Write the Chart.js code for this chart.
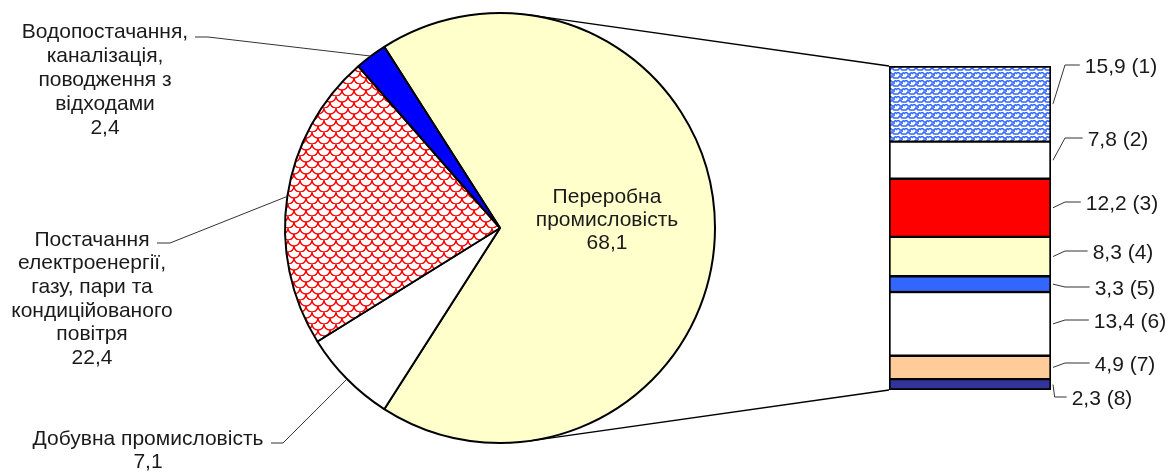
<!DOCTYPE html>
<html>
<head>
<meta charset="utf-8">
<script src="https://cdn.jsdelivr.net/npm/chart.js@4.4.1/dist/chart.umd.min.js"></script>
<style>
  body { margin: 0; background: #fff; }
  #wrap { position: relative; width: 1171px; height: 473px; }
  #wrap canvas { position: absolute; left: 0; top: 0; }
</style>
</head>
<body>
<div id="wrap">
  <canvas id="pie" width="1171" height="473"></canvas>
  <canvas id="bar" width="1171" height="473"></canvas>
</div>
<script>
//Pie data (clockwise from the split-off slice)
const pieLabels = [
  ["Переробна", "промисловість"],
  ["Добувна промисловість"],
  ["Постачання", "електроенергії,", "газу, пари та", "кондиційованого", "повітря"],
  ["Водопостачання,", "каналізація,", "поводження з", "відходами"],
];
const pieValues = [68.1, 7.1, 22.4, 2.4];

//Bar data (top to bottom)
const barLabels = ["(1)", "(2)", "(3)", "(4)", "(5)", "(6)", "(7)", "(8)"];
const barValues = [15.9, 7.8, 12.2, 8.3, 3.3, 13.4, 4.9, 2.3];

const FONT = "21px 'Liberation Sans', Arial, sans-serif";
const TEXT = "#1a1a1a";

function fmt(v) {
  return v.toFixed(1).replace(".", ",");
}

//Red fish-scale pattern
function redPattern() {
  const c = document.createElement("canvas");
  c.width = 12;
  c.height = 12;
  const g = c.getContext("2d");
  g.fillStyle = "#fff";
  g.fillRect(0, 0, 12, 12);
  g.strokeStyle = "#ff0000";
  g.lineWidth = 1.4;
  g.beginPath();
  g.arc(6, 0, 6, 0, Math.PI);
  g.stroke();
  g.beginPath();
  g.arc(0, 6, 6, 0, Math.PI / 2);
  g.stroke();
  g.beginPath();
  g.arc(12, 6, 6, Math.PI / 2, Math.PI);
  g.stroke();
  return g.createPattern(c, "repeat");
}

//Blue weave pattern
function bluePattern() {
  const c = document.createElement("canvas");
  c.width = 8;
  c.height = 8;
  const g = c.getContext("2d");
  g.fillStyle = "#fff";
  g.fillRect(0, 0, 8, 8);
  g.strokeStyle = "#3366ff";
  g.lineWidth = 1.6;
  g.beginPath();
  g.moveTo(0, 2);
  g.lineTo(2, 0);
  g.lineTo(4, 2);
  g.lineTo(6, 2);
  g.lineTo(8, 0);
  g.moveTo(0, 6);
  g.lineTo(2, 6);
  g.lineTo(4, 4);
  g.lineTo(6, 6);
  g.lineTo(8, 6);
  g.moveTo(6, 2);
  g.lineTo(6, 4);
  g.stroke();
  return g.createPattern(c, "repeat");
}

const pieColors = ["#ffffcc", "#ffffff", redPattern(), "#0000ff"];
const barColors = [
  bluePattern(),
  "#ffffff",
  "#ff0000",
  "#ffffcc",
  "#3366ff",
  "#ffffff",
  "#ffcc99",
  "#333399",
];

//Label placement for the pie slices: text centre x, first line y, leader elbow
const pieLabelPos = [
  { x: 607, y: 197, step: 23 },
  { x: 148, y: 439, step: 23, hx: [271, 283], hy: 443 },
  { x: 92, y: 240, step: 23.6, hx: [157, 170], hy: 243 },
  { x: 105, y: 32, step: 24, hx: [195, 208], hy: 37 },
];

//Bar label text positions
const barLabelPos = [
  { x: 1121, y: 67 },
  { x: 1118, y: 140 },
  { x: 1122, y: 204 },
  { x: 1123, y: 253 },
  { x: 1125, y: 289 },
  { x: 1130, y: 322 },
  { x: 1125, y: 365 },
  { x: 1102, y: 399 },
];

const pieLabelPlugin = {
  id: "pieLabels",
  afterDraw(chart) {
    const ctx = chart.ctx;
    const arcs = chart.getDatasetMeta(0).data;
    ctx.save();
    ctx.font = FONT;
    ctx.fillStyle = TEXT;
    ctx.textAlign = "center";
    ctx.textBaseline = "middle";
    arcs.forEach((arc, i) => {
      const pos = pieLabelPos[i];
      const lines = pieLabels[i].concat([fmt(pieValues[i])]);
      lines.forEach((t, k) => ctx.fillText(t, pos.x, pos.y + k * pos.step));
      if (!pos.hx) return;
      const { x, y, startAngle, endAngle, outerRadius } = arc.getProps(
        ["x", "y", "startAngle", "endAngle", "outerRadius"],
        true
      );
      const mid = (startAngle + endAngle) / 2;
      ctx.strokeStyle = "#333";
      ctx.lineWidth = 1;
      ctx.beginPath();
      ctx.moveTo(pos.hx[0], pos.hy);
      ctx.lineTo(pos.hx[1], pos.hy);
      ctx.lineTo(x + Math.cos(mid) * outerRadius, y + Math.sin(mid) * outerRadius);
      ctx.stroke();
    });
    ctx.restore();
  },
};

const pieChart = new Chart(document.getElementById("pie"), {
  type: "pie",
  data: {
    labels: pieLabels.map((l) => l.join(" ")),
    datasets: [
      {
        data: pieValues,
        backgroundColor: pieColors,
        borderColor: "#000",
        borderWidth: 2,
      },
    ],
  },
  options: {
    responsive: false,
    animation: false,
    devicePixelRatio: 1,
    //Centre the split-off slice on 3 o'clock
    rotation: 90 - (pieValues[0] / pieValues.reduce((a, b) => a + b, 0)) * 180,
    layout: { padding: { left: 284, right: 455, top: 12, bottom: 29 } },
    plugins: {
      legend: { display: false },
      tooltip: { enabled: false },
    },
  },
  plugins: [pieLabelPlugin],
});

//Tangent point from an outside point to the pie circle
function tangentPoint(cx, cy, r, px, py, side) {
  const dx = px - cx;
  const dy = py - cy;
  const d = Math.sqrt(dx * dx + dy * dy);
  const a = Math.atan2(dy, dx) + side * Math.acos(r / d);
  return [cx + r * Math.cos(a), cy + r * Math.sin(a)];
}

const barLabelPlugin = {
  id: "barLabels",
  afterDraw(chart) {
    const ctx = chart.ctx;
    const yScale = chart.scales.y;
    const bar = chart.getDatasetMeta(0).data[0];
    const left = bar.x - bar.width / 2;
    const right = bar.x + bar.width / 2;
    const top = yScale.getPixelForValue(0);
    const bottom = yScale.getPixelForValue(barValues.reduce((a, b) => a + b, 0));
    ctx.save();
    //Series lines from the pie to the bar
    const arc = pieChart.getDatasetMeta(0).data[0];
    const r = arc.outerRadius;
    ctx.strokeStyle = "#000";
    ctx.lineWidth = 1.5;
    const t1 = tangentPoint(arc.x, arc.y, r, left, top, -1);
    const t2 = tangentPoint(arc.x, arc.y, r, left, bottom, 1);
    ctx.beginPath();
    ctx.moveTo(t1[0], t1[1]);
    ctx.lineTo(left, top);
    ctx.moveTo(t2[0], t2[1]);
    ctx.lineTo(left, bottom);
    ctx.stroke();
    //Segment labels
    ctx.font = FONT;
    ctx.fillStyle = TEXT;
    ctx.textAlign = "center";
    ctx.textBaseline = "middle";
    ctx.strokeStyle = "#333";
    ctx.lineWidth = 1;
    let acc = 0;
    barValues.forEach((v, i) => {
      const midY = yScale.getPixelForValue(acc + v / 2);
      acc += v;
      const pos = barLabelPos[i];
      const text = fmt(v) + " " + barLabels[i];
      const w = ctx.measureText(text).width;
      const endX = pos.x - w / 2 - 5;
      const elbowX = Math.min(endX - 12, right + 14);
      const hy = pos.y - 2;
      ctx.beginPath();
      ctx.moveTo(right + 2, midY);
      ctx.lineTo(elbowX, hy);
      ctx.lineTo(endX, hy);
      ctx.stroke();
      ctx.fillText(text, pos.x, pos.y);
    });
    ctx.restore();
  },
};

new Chart(document.getElementById("bar"), {
  type: "bar",
  data: {
    labels: [""],
    datasets: barValues.map((v, i) => ({
      label: barLabels[i],
      data: [v],
      backgroundColor: barColors[i],
      borderColor: "#000",
      borderWidth: {
        left: 2,
        right: 2,
        top: i === 0 ? 2 : 1.5,
        bottom: i === barValues.length - 1 ? 2 : 1.5,
      },
      borderSkipped: false,
      stack: "s",
      barPercentage: 1,
      categoryPercentage: 1,
    })),
  },
  options: {
    responsive: false,
    animation: false,
    devicePixelRatio: 1,
    layout: { padding: { left: 889, right: 120, top: 66, bottom: 83 } },
    scales: {
      x: { stacked: true, display: false },
      y: {
        stacked: true,
        display: false,
        reverse: true,
        min: 0,
        max: barValues.reduce((a, b) => a + b, 0),
      },
    },
    plugins: {
      legend: { display: false },
      tooltip: { enabled: false },
    },
  },
  plugins: [barLabelPlugin],
});
</script>
</body>
</html>
